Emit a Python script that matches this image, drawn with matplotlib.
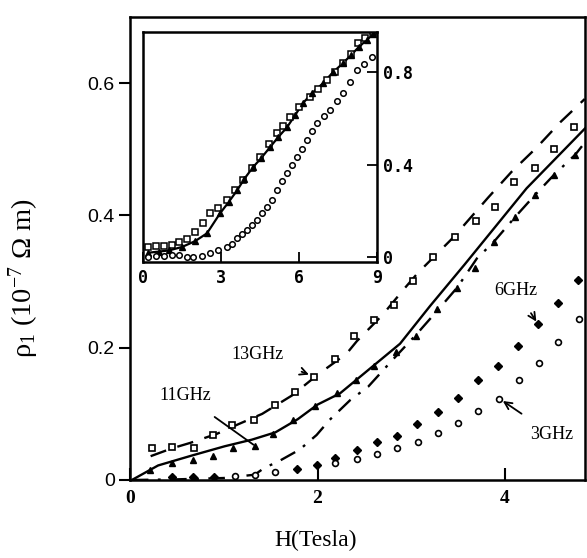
import matplotlib
matplotlib.use("Agg")
import matplotlib.pyplot as plt

# ---------------- main panel data ----------------
sq13_x = [0.23, 0.45, 0.68, 0.88, 1.09, 1.32, 1.55, 1.76, 1.96, 2.19, 2.39, 2.60, 2.82, 3.02,
          3.23, 3.47, 3.69, 3.89, 4.10, 4.32, 4.52, 4.74]
sq13_y = [0.048, 0.050, 0.049, 0.068, 0.083, 0.091, 0.113, 0.133, 0.155, 0.183, 0.218, 0.242,
          0.265, 0.301, 0.337, 0.367, 0.391, 0.412, 0.451, 0.472, 0.500, 0.533]

tri11_x = [0.21, 0.45, 0.67, 0.89, 1.10, 1.33, 1.53, 1.74, 1.97, 2.21, 2.41, 2.60, 2.84, 3.05,
           3.27, 3.49, 3.68, 3.88, 4.11, 4.32, 4.52, 4.75]
tri11_y = [0.015, 0.025, 0.030, 0.036, 0.048, 0.052, 0.069, 0.090, 0.112, 0.132, 0.151, 0.172,
           0.194, 0.218, 0.258, 0.290, 0.320, 0.360, 0.398, 0.431, 0.461, 0.491]

dot6_x = [0.45, 0.67, 0.90, 1.78, 1.99, 2.19, 2.42, 2.63, 2.85, 3.06, 3.29, 3.50, 3.71, 3.93,
          4.14, 4.35, 4.57, 4.78]
dot6_y = [0.004, 0.004, 0.005, 0.016, 0.023, 0.033, 0.045, 0.058, 0.066, 0.084, 0.103, 0.124,
          0.151, 0.173, 0.203, 0.236, 0.267, 0.303]

circ3_x = [1.12, 1.33, 1.55, 2.19, 2.42, 2.63, 2.85, 3.07, 3.29, 3.50, 3.71, 3.94, 4.15, 4.36,
           4.57, 4.79]
circ3_y = [0.006, 0.008, 0.012, 0.025, 0.031, 0.039, 0.048, 0.058, 0.071, 0.086, 0.104, 0.123,
           0.151, 0.177, 0.208, 0.243]

solid_x = [0.02, 0.30, 0.66, 1.01, 1.30, 1.55, 1.79, 2.00, 2.24, 2.59, 2.88, 3.20, 3.57, 4.23, 4.87]
solid_y = [0.0, 0.022, 0.037, 0.051, 0.061, 0.072, 0.092, 0.114, 0.131, 0.172, 0.206, 0.263,
           0.326, 0.441, 0.534]

dash_x = [0.22, 0.45, 0.64, 0.93, 1.15, 1.41, 1.73, 2.00, 2.31, 2.42, 2.69, 2.93, 3.07, 3.45,
          3.82, 4.07, 4.34, 4.59, 4.85]
dash_y = [0.036, 0.048, 0.056, 0.070, 0.084, 0.100, 0.128, 0.159, 0.191, 0.210, 0.249, 0.290,
          0.313, 0.367, 0.427, 0.466, 0.503, 0.541, 0.576]

dashdot_x = [0.02, 0.50, 1.00, 1.33, 1.44, 1.57, 1.81, 1.99, 2.13, 2.35, 2.54, 2.79, 3.06, 3.29,
             3.49, 3.70, 3.88, 4.11, 4.32, 4.52, 4.75, 4.85]
dashdot_y = [0.0, 0.001, 0.003, 0.008, 0.019, 0.027, 0.046, 0.068, 0.091, 0.121, 0.141, 0.180,
             0.221, 0.258, 0.291, 0.335, 0.360, 0.398, 0.431, 0.461, 0.492, 0.510]

# ---------------- inset data ----------------
in_sq_x = [0.2, 0.5, 0.8, 1.1, 1.4, 1.7, 2.0, 2.3, 2.58, 2.9, 3.23, 3.55, 3.85, 4.2, 4.50, 4.85,
           5.15, 5.4, 5.65, 6.0, 6.42, 6.75, 7.08, 7.4, 7.69, 8.0, 8.27, 8.55, 8.85]
in_sq_y = [0.045, 0.05, 0.05, 0.055, 0.065, 0.08, 0.11, 0.15, 0.19, 0.215, 0.247, 0.29, 0.333,
           0.385, 0.433, 0.49, 0.537, 0.57, 0.606, 0.65, 0.693, 0.73, 0.766, 0.80, 0.840, 0.88,
           0.926, 0.95, 0.974]
in_tri_x = [0.2, 0.6, 1.0, 1.5, 2.0, 2.46, 2.96, 3.3, 3.62, 3.9, 4.23, 4.55, 4.88, 5.2, 5.54,
            5.85, 6.15, 6.5, 6.92, 7.3, 7.69, 8.0, 8.3, 8.6, 8.85]
in_tri_y = [0.02, 0.025, 0.03, 0.045, 0.07, 0.104, 0.190, 0.24, 0.290, 0.34, 0.390, 0.43,
            0.476, 0.52, 0.563, 0.615, 0.667, 0.71, 0.753, 0.80, 0.840, 0.875, 0.91, 0.94, 0.965]
in_circ_x = [0.2, 0.5, 0.8, 1.1, 1.4, 1.7, 1.92, 2.25, 2.58, 2.9, 3.23, 3.42, 3.62, 3.8, 4.00,
             4.2, 4.38, 4.58, 4.77, 4.95, 5.15, 5.35, 5.54, 5.72, 5.92, 6.1, 6.31, 6.5, 6.69,
             6.95, 7.19, 7.45, 7.69, 7.95, 8.23, 8.5, 8.81]
in_circ_y = [0.0, 0.005, 0.008, 0.01, 0.012, 0.0, 0.0, 0.008, 0.017, 0.03, 0.043, 0.06, 0.082,
             0.10, 0.117, 0.14, 0.160, 0.19, 0.216, 0.25, 0.290, 0.33, 0.364, 0.40, 0.433,
             0.47, 0.506, 0.545, 0.580, 0.61, 0.636, 0.675, 0.710, 0.76, 0.810, 0.835, 0.866]

main_xticks = [0, 2, 4]
main_yticks = [0, 0.2, 0.4, 0.6]
main_yticklabels = ["0", "0.2", "0.4", "0.6"]
in_xticks = [0, 3, 6, 9]
in_yticks = [0, 0.4, 0.8]
in_yticklabels = ["0", "0.4", "0.8"]

plt.rcParams["mathtext.fontset"] = "custom"
plt.rcParams["mathtext.rm"] = "Liberation Serif"
plt.rcParams["mathtext.it"] = "Liberation Serif:italic"

fig = plt.figure(figsize=(5.87, 5.58), dpi=100)
ax = fig.add_axes([130 / 587, 78 / 558, 455 / 587, 463 / 558])
ax.set_xlim(0, 4.853)
ax.set_ylim(0, 0.70)

for s in ax.spines.values():
    s.set_linewidth(1.8)

ax.plot(solid_x, solid_y, color="black", lw=1.7, ls="-")
ax.plot(dash_x, dash_y, color="black", lw=1.7, ls=(0, (7, 5)))
ax.plot(dashdot_x, dashdot_y, color="black", lw=1.7, ls=(0, (7, 4, 1.2, 4)))

ax.plot(sq13_x, sq13_y, ls="none", marker="s", ms=4.6, mfc="white", mec="black", mew=1.2)
ax.plot(tri11_x, tri11_y, ls="none", marker="^", ms=5.0, mfc="black", mec="black")
ax.plot(dot6_x, dot6_y, ls="none", marker="D", ms=3.6, mfc="black", mec="black")
ax.plot(circ3_x, circ3_y, ls="none", marker="o", ms=4.2, mfc="white", mec="black", mew=1.2)

ax.set_xticks(main_xticks)
ax.set_xticklabels([str(v) for v in main_xticks], fontfamily="Liberation Serif",
                   fontweight="bold", fontsize=14)
ax.set_yticks(main_yticks)
ax.set_yticklabels(main_yticklabels, fontfamily="Liberation Sans", fontsize=14)
ax.tick_params(axis="x", direction="in", length=9, width=1.5, pad=7)
ax.tick_params(axis="y", direction="out", length=8, width=1.5, pad=3)

ax.set_xlabel("H(Tesla)", fontfamily="Liberation Serif", fontsize=17)
ax.xaxis.set_label_coords(0.409, -0.108)
ax.set_ylabel("ρ$_\\mathrm{1}$ (10$^\\mathrm{-7}$ Ω m)", fontfamily="Liberation Serif",
              fontsize=20.5)
ax.yaxis.set_label_coords(-0.195, 0.436)

tkw = dict(fontfamily="Liberation Serif", fontsize=13, ha="center", va="center")
ax.annotate("13GHz", xy=(1.95, 0.157), xytext=(1.36, 0.19), textcoords="data",
            arrowprops=dict(arrowstyle="->", color="black", lw=1.3,
                            shrinkA=12, shrinkB=3), **tkw)
ax.annotate("11GHz", xy=(1.33, 0.052), xytext=(0.59, 0.127), textcoords="data",
            arrowprops=dict(arrowstyle="-", color="black", lw=1.3,
                            shrinkA=12, shrinkB=1), **tkw)
ax.annotate("6GHz", xy=(4.35, 0.236), xytext=(4.12, 0.287), textcoords="data",
            arrowprops=dict(arrowstyle="->", color="black", lw=1.3,
                            shrinkA=10, shrinkB=2), **tkw)
ax.annotate("3GHz", xy=(3.94, 0.123), xytext=(4.50, 0.069), textcoords="data",
            arrowprops=dict(arrowstyle="->", color="black", lw=1.3,
                            shrinkA=12, shrinkB=3), **tkw)

# ---------------- inset ----------------
ins = fig.add_axes([143 / 587, 296 / 558, 234 / 587, 230 / 558])
ins.set_xlim(0, 9)
ins.set_ylim(-0.02, 0.975)
for s in ins.spines.values():
    s.set_linewidth(1.8)
ins.plot(in_tri_x, in_tri_y, color="black", lw=1.6)
ins.plot(in_sq_x, in_sq_y, ls="none", marker="s", ms=4.2, mfc="white", mec="black", mew=1.1)
ins.plot(in_tri_x, in_tri_y, ls="none", marker="^", ms=4.2, mfc="black", mec="black", mew=1.0)
ins.plot(in_circ_x, in_circ_y, ls="none", marker="o", ms=4.0, mfc="white", mec="black", mew=1.1)

ins.set_xticks(in_xticks)
ins.set_xticklabels([str(v) for v in in_xticks], fontfamily="DejaVu Sans Mono",
                    fontweight="bold", fontsize=12)
ins.set_yticks(in_yticks)
ins.set_yticklabels(in_yticklabels, fontfamily="DejaVu Sans Mono", fontweight="bold",
                    fontsize=12)
ins.yaxis.tick_right()
ins.tick_params(axis="x", direction="in", length=7, width=1.3, pad=5)
ins.tick_params(axis="y", direction="in", length=7, width=1.3, pad=4)

fig.savefig("out.png", dpi=100)
